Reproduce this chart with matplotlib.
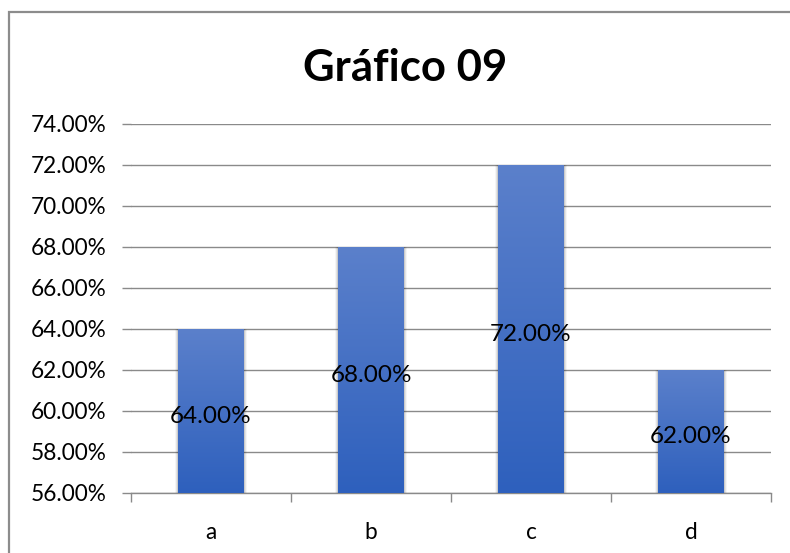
import matplotlib
matplotlib.use("Agg")
import matplotlib.pyplot as plt
import numpy as np
from matplotlib.patches import Rectangle
from matplotlib.colors import LinearSegmentedColormap

categories = ["a", "b", "c", "d"]
values = [64.0, 68.0, 72.0, 62.0]
y_ticks = [56, 58, 60, 62, 64, 66, 68, 70, 72, 74]
title = "Gráfico 09"

W, H = 790, 553
fig = plt.figure(figsize=(W / 100, H / 100), dpi=100)
plt.rcParams['font.family'] = ['Lato', 'DejaVu Sans']

ax = fig.add_axes([131 / W, 1 - 493 / H, (771 - 131) / W, (493 - 124) / H])
ymin, ymax = 56, 74
ax.set_ylim(ymin, ymax)
ax.set_xlim(-0.5, len(categories) - 0.5)

grid_c = "#8a8a8a"
ax.set_yticks(y_ticks)
ax.set_yticklabels([f"{v:.2f}%" for v in y_ticks], fontsize=16.3)
ax.yaxis.grid(True, color=grid_c, linewidth=1.0)
ax.set_axisbelow(True)
ax.tick_params(axis='y', length=6.5, color=grid_c, width=1.0, pad=11)

ax.set_xticks(range(len(categories)))
ax.set_xticklabels(categories, fontsize=16.3)
ax.tick_params(axis='x', which='major', length=0, pad=21)
ax.set_xticks(np.arange(-0.5, len(categories), 1.0), minor=True)
ax.tick_params(axis='x', which='minor', length=6.5, color=grid_c, width=1.0)

for s in ['left', 'right', 'top']:
    ax.spines[s].set_visible(False)
ax.spines['bottom'].set_color(grid_c)
ax.spines['bottom'].set_linewidth(1.0)

cmap = LinearSegmentedColormap.from_list("g", ["#2e60bd", "#5b80cb"])
grad = np.linspace(0, 1, 256).reshape(-1, 1)
bw = 0.41
for i, v in enumerate(values):
    # soft shadow
    for k, a in enumerate([0.10, 0.07, 0.04]):
        off = 0.006 * (k + 1)
        sh = Rectangle((i - bw / 2 - off, ymin), bw + 2 * off, v - ymin,
                       facecolor="black", alpha=a, edgecolor="none", zorder=2)
        ax.add_patch(sh)
    bars = ax.bar(i, v - ymin, bottom=ymin, width=bw, color="none", zorder=3)
    rect = bars[0]
    im = ax.imshow(grad, cmap=cmap, aspect='auto', origin='lower',
                   extent=[i - bw / 2, i + bw / 2, ymin, v], zorder=3)
    im.set_clip_path(rect)
    ax.text(i, (ymin + v) / 2 - 0.25, f"{v:.2f}%", ha='center', va='center',
            fontsize=17.5, color='black', zorder=5)

ax.set_xlim(-0.5, len(categories) - 0.5)
ax.set_ylim(ymin, ymax)

fig.text(405 / W, 1 - 68 / H, title, ha='center', va='center',
         fontsize=31.4, fontweight='bold')

border = Rectangle((8.5 / W, -0.05), 1.1, 1 - 11.5 / H + 0.05, transform=fig.transFigure,
                   fill=False, edgecolor="#8c8c8c", linewidth=1.6, clip_on=False)
fig.patches.append(border)

fig.savefig("out.png", dpi=100)
